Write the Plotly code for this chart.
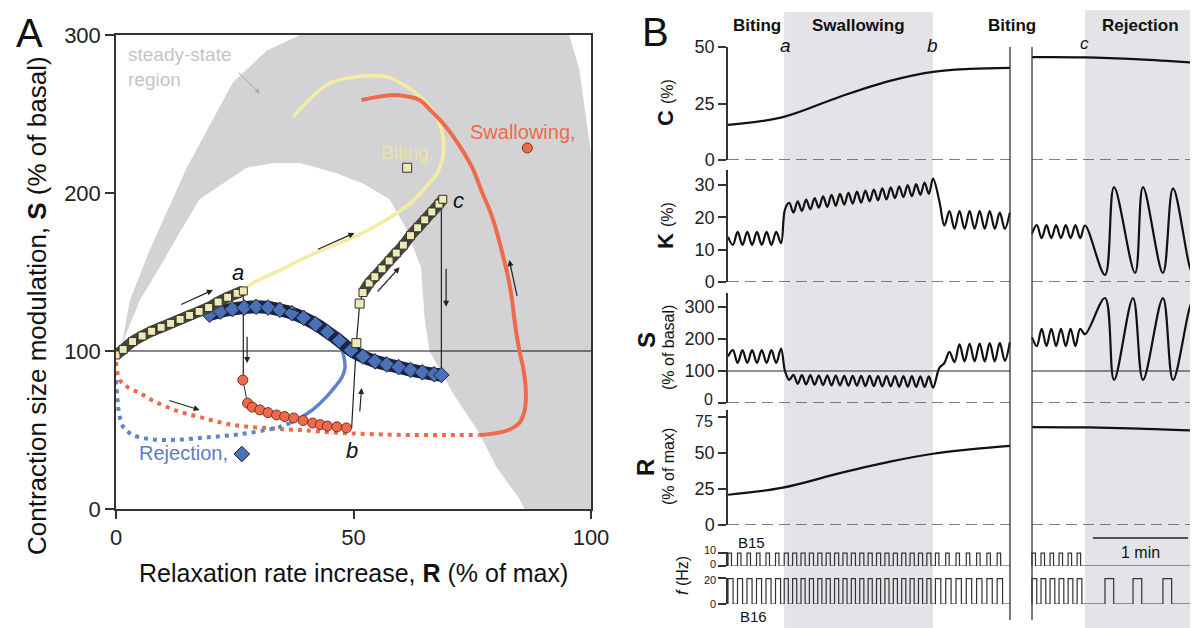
import numpy as np
import plotly.graph_objects as go

W, H = 1198, 628
FONT = "Liberation Sans, Arial, Helvetica, sans-serif"
PAGE_OFFSET = 8  # the page body adds an 8 px margin around the figure


def px(x):
    return (x - PAGE_OFFSET) / W


def py(y):
    return 1 - (y - PAGE_OFFSET) / H


# ---------------- Panel A data (R = % of max, S = % of basal) ----------------
STEADY_R = [1, 2.9, 7.1, 14.9, 24.6, 31.7, 38.7, 95.4, 97.5, 99, 100, 100, 86, 85, 80, 76.5, 71, 66,
            65, 64.2, 61, 57.6, 52, 46, 38.7, 33, 27.5, 17.6, 13.4, 9, 5, 2, 1]
STEADY_S = [100, 132, 164, 216, 270, 290, 300, 300, 279, 247, 225, 0, 0, 6, 27, 48, 73, 100,
            120, 153, 178, 196, 206, 213, 219, 219, 216, 196, 175, 152, 132, 110, 100]

BITE_LINE_R = [26.7, 30, 34.5, 38.7, 43.5, 48.5, 54, 59, 62.5, 65.3, 67.5, 68.7, 69, 68.7, 67.8, 66.6,
               64.7, 62.4, 60, 57.6, 54.8, 51.9, 48.5, 45, 41, 37.2]
BITE_LINE_S = [138.6, 145, 151, 157.6, 164, 170, 178, 187, 195, 204, 212, 221, 230, 238, 246, 252.5,
               259, 265, 269.5, 273, 274.2, 274, 272.5, 269.6, 260, 248]

SWAL_DOT_R = [0, 0.8, 2.5, 5, 7.5, 10.7, 14, 17.6, 21, 24.6, 28, 31.7, 35, 38.7, 43, 48.5, 55, 62.4, 70, 76.5]
SWAL_DOT_S = [93, 81.6, 77, 73.4, 69, 64.6, 61, 58.2, 55.5, 53.2, 52, 51.3, 50.5, 50, 49, 48, 47.3, 46.8, 46.8, 46.8]
SWAL_LINE_R = [76.5, 80, 83, 84.9, 86, 86.3, 85.8, 84.9, 84, 83.4, 82.8, 81.5, 79.2, 77, 75, 72.5, 69.5,
               66.5, 63.9, 61.5, 59, 55.5, 51.7]
SWAL_LINE_S = [46.8, 48, 50.5, 54.4, 62, 73.4, 88, 100.6, 117, 132, 143, 160, 184.8, 201, 216, 229, 241.8,
               251.5, 258.9, 261, 262, 261, 258.9]

REJ_DOT_R = [0, 0.3, 0.6, 1.5, 3.6, 7.1, 10.7, 14, 17.6, 21, 24.6, 28, 31.7, 34.5, 36.6]
REJ_DOT_S = [81.6, 70, 61.4, 52, 46.8, 44.3, 43.7, 44, 44.9, 45.8, 46.8, 48.2, 50, 52, 54.4]
REJ_LINE_R = [36.6, 39, 41.5, 44, 46, 47.5, 48.2, 48, 47.3, 46.4, 45, 43.5, 41, 38]
REJ_LINE_S = [54.4, 58, 63, 70, 77, 83, 89, 96, 103, 109, 114, 117.7, 121.5, 124.5]

SQ1_R = [0, 1.5, 3.5, 5.5, 7.5, 9.5, 11.5, 13.5, 15.5, 17.5, 19.5, 21.5, 23.5, 25.5, 26.8]
SQ1_S = [97.5, 101, 106, 109.5, 112.5, 115, 117.5, 120, 122.5, 125, 127.5, 131, 134, 136.5, 138]
SQ2_R = [52, 53.3, 54.5, 56, 57.5, 59, 60.5, 62, 63.5, 65, 66.5, 68, 68.8]
SQ2_S = [137, 143, 147, 152, 157, 162, 167, 173, 178, 183, 188, 193, 196]
SQ_SINGLE_R = [50.6, 51.3]
SQ_SINGLE_S = [105, 130]

DIA_R = [19.7, 22, 24.5, 27, 29.5, 32, 34.5, 37, 39.5, 42, 44.5, 47, 49.5, 52, 54.5, 57, 59.5, 62, 64.5, 67, 68.5]
DIA_S = [123, 125, 126.5, 127.5, 128, 127.5, 126, 124, 121, 117, 112, 106.5, 100.5, 96.5, 93.5, 91.5, 89.8,
         88, 86.5, 85.3, 84.8]

CIRC_R = [26.7, 27.7, 28.7, 30.3, 32, 33.8, 35.5, 37.4, 39.4, 41.4, 43, 44.5, 46.5, 48.5]
CIRC_S = [81.6, 67, 64.5, 62.7, 61, 59.5, 58.5, 57.6, 56, 54.4, 53.4, 52.5, 52, 51.3]

LINK_A_R, LINK_A_S = [26.8, 26.8], [138, 81.6]
LINK_B_R, LINK_B_S = [49.6, 50.6, 51.3, 52], [51, 105, 130, 137]
LINK_C_R, LINK_C_S = [68.5, 68.5], [195, 84.8]

# ---------------- Panel B data (time in s) ----------------
SWALLOW_SPAN = (35.4, 129.5)
REJECT_SPAN = (225.5, 297)
SEG1 = (0, 178.1)
SEG2 = (192, 297)

C1_T = [0, 34.7, 70.7, 102.3, 129.5, 152.8, 178.1]
C1_V = [15.5, 19, 28, 35, 39, 40.3, 40.8]
C2_T = [192, 225.5, 260, 296.8]
C2_V = [45.5, 45.4, 44.5, 43]

R1_T = [0, 34.7, 70.7, 102.3, 129.5, 152.8, 178.1]
R1_V = [21, 26, 36, 44, 49.5, 52.5, 55]
R2_T = [192, 225.5, 260, 296.8]
R2_V = [68, 67.8, 67, 65.5]

# K: oscillation extrema per epoch (t_start, t_end, values)
K_EPOCHS_1 = [
    (0, 33.5, [14, 11.5, 15.5, 11.5, 15.5, 11.5, 15.5, 11.5, 15.5, 11.5, 15.5, 12]),
    (36, 129.5, [22.5, 24.5, 21.5, 25, 22, 25.5, 22.5, 26, 23, 26.5, 23.3, 27, 23.6, 27.3, 24, 27.6, 24.3, 28,
                 24.6, 28.3, 25, 28.6, 25.3, 29, 25.6, 29.3, 26, 29.6, 26.3, 30, 26.6, 30.3, 27, 30.8, 27.3, 32]),
    (133.5, 178, [25, 17.5, 22, 16.5, 22, 16.5, 22, 16.5, 22, 16.5, 22, 16.5, 21.5, 16.5, 21.5]),
]
K_EPOCHS_2 = [
    (192, 225.5, [15, 17.6, 13.6, 17.6, 13.6, 17.6, 13.6, 17.6, 13.6, 17.6, 13.6, 17.5]),
]
K_REJ_T = [238.1, 243.8, 257.1, 262.1, 274.7, 281.1, 293.1, 296.8]
K_REJ_V = [2.2, 29.4, 2.8, 29.4, 2.8, 29.0, 3.0, 12]

S_EPOCHS_1 = [
    (0, 33.5, [145, 165, 125, 165, 125, 165, 125, 165, 125, 165, 125, 170]),
    (36, 129.5, [100, 72, 88, 60, 87, 58, 87, 57, 86, 56, 86, 55, 86, 55, 85, 54, 85, 54, 85, 53, 85, 53,
                 84, 52, 84, 52, 84, 51, 84, 51, 84, 50, 83, 50, 83, 48]),
    (133.5, 178, [110, 125, 160, 128, 183, 130, 185, 130, 186, 130, 187, 130, 188, 132, 190]),
]
S_EPOCHS_2 = [
    (192, 225.5, [205, 178, 232, 178, 232, 178, 232, 178, 232, 178, 232, 215]),
]
S_REJ_T = [238.1, 243.8, 255.8, 262.1, 274.7, 281.1, 293.1, 296.8]
S_REJ_V = [328, 72, 328, 72, 328, 72, 315, 200]

# firing bursts: (start, end, burst period, burst width) in s; amplitude in Hz
B15_EPOCHS = [(0, 34, 6.0, 2.2), (35.5, 129.5, 5.3, 2.6), (131, 178, 6.5, 2.2), (192, 225, 5.7, 2.2)]
B16_EPOCHS = [(0, 34, 6.0, 3.2), (35.5, 129.5, 5.3, 2.6), (131, 178, 6.5, 3.4), (192, 225, 5.7, 3.0)]
B16_REJ_ON = [238.1, 255.8, 274.7, 293.1]
B16_REJ_WIDTH = 5.5
B15_AMP, B16_AMP = 10, 19.5

fig = go.Figure()

# ---------------- Panel A traces ----------------
RED = "#ee6a4b"
YEL = "#f5eba3"
BLU = "#5b86cc"
BLU_D = "#4a70b6"

fig.add_trace(go.Scatter(x=STEADY_R, y=STEADY_S, fill="toself", fillcolor="#d3d3d6",
                         line=dict(width=0), mode="lines", hoverinfo="skip"))
fig.add_trace(go.Scatter(x=[0, 100], y=[100, 100], mode="lines", line=dict(color="#111", width=1.2)))
fig.add_trace(go.Scatter(x=BITE_LINE_R, y=BITE_LINE_S, mode="lines",
                         line=dict(color=YEL, width=3.5, shape="spline")))
fig.add_trace(go.Scatter(x=SWAL_DOT_R, y=SWAL_DOT_S, mode="lines",
                         line=dict(color=RED, width=4, shape="spline", dash="4px,5px")))
fig.add_trace(go.Scatter(x=SWAL_LINE_R, y=SWAL_LINE_S, mode="lines",
                         line=dict(color=RED, width=4, shape="spline")))
fig.add_trace(go.Scatter(x=REJ_DOT_R, y=REJ_DOT_S, mode="lines",
                         line=dict(color=BLU, width=4, shape="spline", dash="4px,5px")))
fig.add_trace(go.Scatter(x=REJ_LINE_R, y=REJ_LINE_S, mode="lines",
                         line=dict(color=BLU, width=3.5, shape="spline")))
for lr, ls in [(LINK_A_R, LINK_A_S), (LINK_B_R, LINK_B_S), (LINK_C_R, LINK_C_S)]:
    fig.add_trace(go.Scatter(x=lr, y=ls, mode="lines", line=dict(color="#222", width=1.2)))
fig.add_trace(go.Scatter(x=CIRC_R, y=CIRC_S, mode="lines+markers",
                         line=dict(color="#333", width=1),
                         marker=dict(symbol="circle", size=10, color=RED, line=dict(color="#7a3020", width=1))))
fig.add_trace(go.Scatter(x=DIA_R, y=DIA_S, mode="lines", line=dict(color="#1b2440", width=13, shape="spline")))
fig.add_trace(go.Scatter(x=DIA_R, y=DIA_S, mode="markers",
                         marker=dict(symbol="diamond", size=12, color=BLU_D, line=dict(color="#1b2440", width=1))))
for sr, ss in [(SQ1_R, SQ1_S), (SQ2_R, SQ2_S)]:
    fig.add_trace(go.Scatter(x=sr, y=ss, mode="lines", line=dict(color="#44443a", width=11, shape="spline")))
    fig.add_trace(go.Scatter(x=sr, y=ss, mode="markers",
                             marker=dict(symbol="square", size=8, color="#efeab4", line=dict(color="#333", width=1))))
fig.add_trace(go.Scatter(x=SQ_SINGLE_R, y=SQ_SINGLE_S, mode="markers",
                         marker=dict(symbol="square", size=9, color="#efeab4", line=dict(color="#333", width=1))))
fig.add_trace(go.Scatter(x=[61.3], y=[216], mode="markers",
                         marker=dict(symbol="square", size=9, color="#efeab4", line=dict(color="#333", width=1))))
fig.add_trace(go.Scatter(x=[86.6], y=[228.5], mode="markers",
                         marker=dict(symbol="circle", size=10, color=RED, line=dict(color="#7a3020", width=1))))
fig.add_trace(go.Scatter(x=[26.5], y=[34.8], mode="markers",
                         marker=dict(symbol="diamond", size=12, color=BLU_D, line=dict(color="#1b2440", width=1))))


# ---------------- Panel B traces ----------------
def epochs_xy(epochs):
    xs, ys = [], []
    for t0, t1, vals in epochs:
        xs += list(np.linspace(t0, t1, len(vals)))
        ys += list(vals)
    return xs, ys


def pulses(epochs, amp, t_start, t_end, extra_on=(), extra_w=0):
    xs, ys = [t_start], [0]
    for e0, e1, period, width in epochs:
        for on in np.arange(e0, e1 - width + 1e-9, period):
            xs += [on, on, on + width, on + width]
            ys += [0, amp, amp, 0]
    for on in extra_on:
        xs += [on, on, on + extra_w, on + extra_w]
        ys += [0, amp, amp, 0]
    xs.append(t_end)
    ys.append(0)
    return xs, ys


LINEB = dict(color="#111", width=2.2, shape="spline")

fig.add_trace(go.Scatter(x=C1_T, y=C1_V, xaxis="x2", yaxis="y2", mode="lines", line=LINEB))
fig.add_trace(go.Scatter(x=C2_T, y=C2_V, xaxis="x2", yaxis="y2", mode="lines", line=LINEB))

kx, ky = epochs_xy(K_EPOCHS_1)
fig.add_trace(go.Scatter(x=kx, y=ky, xaxis="x2", yaxis="y3", mode="lines", line=LINEB))
kx, ky = epochs_xy(K_EPOCHS_2)
fig.add_trace(go.Scatter(x=kx + K_REJ_T, y=ky + K_REJ_V, xaxis="x2", yaxis="y3", mode="lines", line=LINEB))

sx, sy = epochs_xy(S_EPOCHS_1)
fig.add_trace(go.Scatter(x=sx, y=sy, xaxis="x2", yaxis="y4", mode="lines", line=LINEB))
sx, sy = epochs_xy(S_EPOCHS_2)
fig.add_trace(go.Scatter(x=sx + S_REJ_T, y=sy + S_REJ_V, xaxis="x2", yaxis="y4", mode="lines", line=LINEB))

fig.add_trace(go.Scatter(x=R1_T, y=R1_V, xaxis="x2", yaxis="y5", mode="lines", line=LINEB))
fig.add_trace(go.Scatter(x=R2_T, y=R2_V, xaxis="x2", yaxis="y5", mode="lines", line=LINEB))

PL = dict(color="#333", width=1.2)
bx, by = pulses(B15_EPOCHS[:3], B15_AMP, SEG1[0], SEG1[1])
fig.add_trace(go.Scatter(x=bx, y=by, xaxis="x2", yaxis="y6", mode="lines", line=PL))
bx, by = pulses(B15_EPOCHS[3:], B15_AMP, SEG2[0], SEG2[1])
fig.add_trace(go.Scatter(x=bx, y=by, xaxis="x2", yaxis="y6", mode="lines", line=PL))
bx, by = pulses(B16_EPOCHS[:3], B16_AMP, SEG1[0], SEG1[1])
fig.add_trace(go.Scatter(x=bx, y=by, xaxis="x2", yaxis="y7", mode="lines", line=PL))
bx, by = pulses(B16_EPOCHS[3:], B16_AMP, SEG2[0], SEG2[1], B16_REJ_ON, B16_REJ_WIDTH)
fig.add_trace(go.Scatter(x=bx, y=by, xaxis="x2", yaxis="y7", mode="lines", line=PL))

# ---------------- Layout ----------------
AX = dict(showgrid=False, zeroline=False, showline=True, linecolor="#333", linewidth=1.5, automargin=False,
          ticks="outside", tickcolor="#333", tickwidth=1.5, tickfont=dict(size=22, color="#222", family=FONT))
BT = dict(size=18, color="#222", family=FONT)

shapes = []
for a, b, top in [(SWALLOW_SPAN[0], SWALLOW_SPAN[1], 12), (REJECT_SPAN[0], REJECT_SPAN[1], 10)]:
    shapes.append(dict(type="rect", xref="x2", yref="paper", x0=a, x1=b, y0=py(640), y1=py(top),
                       fillcolor="#e4e4e8", line=dict(width=0), layer="below"))
for yref in ["y2", "y3", "y4", "y5"]:
    for s0, s1 in [SEG1, SEG2]:
        shapes.append(dict(type="line", xref="x2", yref=yref, x0=s0, x1=s1, y0=0, y1=0,
                           line=dict(color="#555", width=1.6, dash="11px,6px")))
for s0, s1 in [SEG1, SEG2]:
    shapes.append(dict(type="line", xref="x2", yref="y4", x0=s0, x1=s1, y0=100, y1=100,
                       line=dict(color="#222", width=1)))
for xv in [SEG1[1], SEG2[0]]:
    shapes.append(dict(type="line", xref="x2", yref="paper", x0=xv, x1=xv, y0=py(620), y1=py(47),
                       line=dict(color="#333", width=1.3)))
shapes.append(dict(type="line", xref="x2", yref="paper", x0=230.5, x1=290.5, y0=py(538), y1=py(538),
                   line=dict(color="#222", width=1.5)))

ann = []


def text(x, y, s, size, color="#111", xanchor="center", yanchor="middle", angle=0, ref="paper", **kw):
    d = dict(x=x, y=y, text=s, showarrow=False, font=dict(size=size, color=color, family=FONT),
             xanchor=xanchor, yanchor=yanchor, textangle=angle, borderpad=0)
    if ref == "paper":
        d.update(xref="paper", yref="paper")
    else:
        d.update(xref="x", yref="y")
    d.update(kw)
    ann.append(d)


# panel A texts
text(px(29), py(33), "A", 40)
text(px(37), py(306), "Contraction size modulation, <b>S</b> (% of basal)", 26, angle=-90)
text(px(353), py(573), "Relaxation rate increase, <b>R</b> (% of max)", 25)
text(2.3, 279.7, "steady-state<br>region", 19, color="#c4c4c6", xanchor="left", ref="data", align="left")
text(61.3, 225.9, "Biting,", 19, color="#efe49a", ref="data")
text(85.6, 238.6, "Swallowing,", 20, color=RED, ref="data")
text(14.3, 35.4, "Rejection,", 20, color="#5b7ec0", ref="data")
text(25.6, 150, "<i>a</i>", 22, ref="data")
text(49.6, 37, "<i>b</i>", 22, ref="data")
text(72.2, 195.5, "<i>c</i>", 22, ref="data")

ARROWS = [((13.4, 129), (20.4, 138.6)), ((42.2, 164), (50.2, 174.7)), ((54.8, 136.7), (59.7, 153)),
          ((69.5, 153), (69.5, 128)), ((84.5, 134), (82.8, 157.6)), ((39.3, 124), (35, 128.5)),
          ((27.6, 110), (27.6, 92.4)), ((10.9, 69), (17.6, 62.7)), ((51.3, 60.8), (51.7, 76.6))]
for (tx, ty), (hx, hy) in ARROWS:
    ann.append(dict(x=hx, y=hy, ax=tx, ay=ty, xref="x", yref="y", axref="x", ayref="y", text="",
                    showarrow=True, arrowhead=2, arrowsize=1, arrowwidth=1.2, arrowcolor="#222"))
ann.append(dict(x=30.3, y=263, ax=25.5, ay=277, xref="x", yref="y", axref="x", ayref="y", text="",
                showarrow=True, arrowhead=2, arrowsize=1, arrowwidth=1, arrowcolor="#aaa"))

# panel B texts
text(px(656), py(32), "B", 40)
for xpx, s in [(757, "Biting"), (858, "Swallowing"), (1012, "Biting"), (1140, "Rejection")]:
    text(px(xpx), py(25), "<b>" + s + "</b>", 17)
text(px(785), py(45), "<i>a</i>", 19)
text(px(932), py(45), "<i>b</i>", 19)
text(px(1084), py(44), "<i>c</i>", 17)
text(px(665), py(103), "<b>C</b> <span style='font-size:16px'>(%)</span>", 22, angle=-90)
text(px(665), py(226), "<b>K</b> <span style='font-size:16px'>(%)</span>", 22, angle=-90)
text(px(646), py(340), "<b>S</b>", 24, angle=-90)
text(px(668), py(348), "(% of basal)", 16, angle=-90)
text(px(646), py(468), "<b>R</b>", 24, angle=-90)
text(px(668), py(467), "(% of max)", 16, angle=-90)
text(px(682), py(576), "<i>f</i> (Hz)", 16, angle=-90)
text(px(751), py(542), "B15", 15)
text(px(753), py(616), "B16", 15)
text(px(1140), py(552), "1 min", 16)
# tick labels that sit tightly stacked in the reference
text(px(714), py(399), "0", 16, color="#222", xanchor="right")
text(px(714), py(421), "75", 16, color="#222", xanchor="right")
for ypx, s in [(550, "10"), (564, "0"), (580, "20"), (604, "0")]:
    text(px(717), py(ypx), s, 11, color="#222", xanchor="right")

fig.update_layout(
    template="none",
    width=W, height=H, autosize=False,
    margin=dict(l=0, r=0, t=0, b=0, pad=0),
    paper_bgcolor="white", plot_bgcolor="rgba(0,0,0,0)",
    showlegend=False,
    font=dict(family=FONT, color="#111"),
    shapes=shapes, annotations=ann,
    xaxis=dict(AX, domain=[px(116), px(591)], range=[0, 100], tickvals=[0, 50, 100], ticklen=8,
               mirror=True, anchor="y"),
    yaxis=dict(AX, domain=[py(509), py(35)], range=[0, 300], tickvals=[0, 100, 200, 300], ticklen=9,
               mirror=True, anchor="x"),
    xaxis2=dict(domain=[px(728), 1.0], range=[0, (W + PAGE_OFFSET - 728) * 60 / 95], visible=False,
                anchor="y2", automargin=False),
    yaxis2=dict(AX, domain=[py(160), py(47)], range=[0, 50], tickvals=[0, 25, 50], anchor="x2", ticklen=8,
                tickfont=BT),
    yaxis3=dict(AX, domain=[py(282), py(170)], range=[0, 34.7], tickvals=[0, 10, 20, 30], anchor="x2",
                ticklen=8, tickfont=BT),
    yaxis4=dict(AX, domain=[py(403), py(293)], range=[0, 343.75], tickvals=[0, 100, 200, 300],
                ticktext=["", "100", "200", "300"], anchor="x2", ticklen=8, tickfont=BT),
    yaxis5=dict(AX, domain=[py(525), py(410)], range=[0, 79.9], tickvals=[0, 25, 50, 75],
                ticktext=["0", "25", "50", ""], anchor="x2", ticklen=8, tickfont=BT),
    yaxis6=dict(AX, domain=[py(566), py(552)], range=[0, 10.8], tickvals=[0, 10], anchor="x2",
                ticklen=8, showticklabels=False),
    yaxis7=dict(AX, domain=[py(604), py(578)], range=[0, 20], tickvals=[0, 20], anchor="x2",
                ticklen=8, showticklabels=False),
)

fig.write_html("out.html")
